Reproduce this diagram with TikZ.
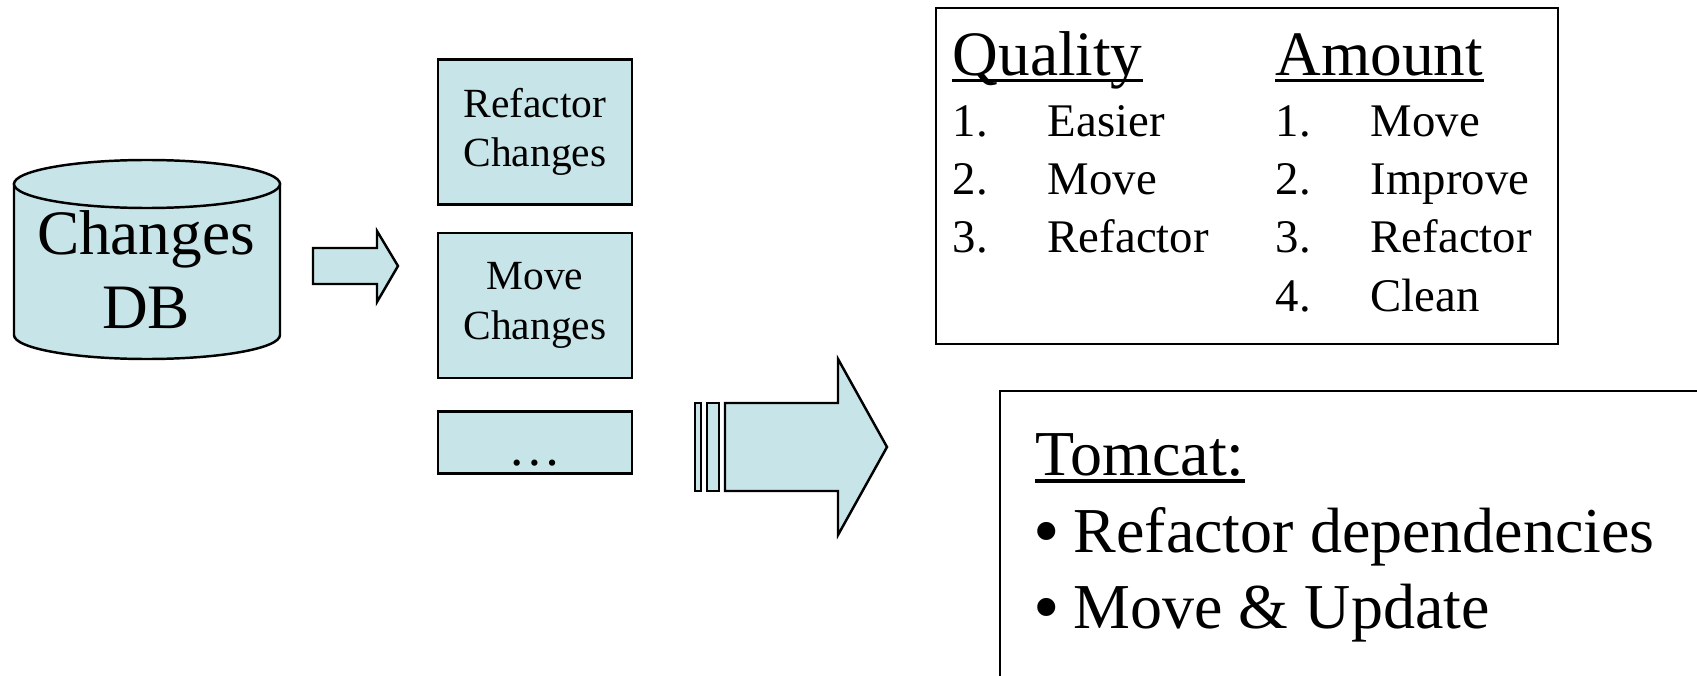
\documentclass[tikz,border=0pt]{standalone}
\usepackage{fontspec}
\setmainfont{Liberation Serif}
\usepackage{xcolor}
\usepackage{tikz}
\usetikzlibrary{positioning}

\definecolor{dbfill}{RGB}{199,229,232}
\newcommand{\headfont}{\fontsize{18}{21}\selectfont}
\newcommand{\itemfont}{\fontsize{13.3}{16}\selectfont}
\newcommand{\bigfont}{\fontsize{18.2}{22}\selectfont}
\newcommand{\bigdot}{\makebox[0.38cm][l]{\hspace*{-0.5pt}\raisebox{-1.4pt}{\fontsize{21.5}{21.5}\selectfont •}}}

\tikzset{
  outl/.style={draw=black, line width=0.7pt},
  cyanfill/.style={outl, fill=dbfill},
  chgbox/.style={cyanfill, minimum width=1.94cm, minimum height=1.45cm, inner sep=0pt,
    align=center, font=\fontsize{11.8}{14}\selectfont},
  txt/.style={inner sep=0pt, anchor=base west},
  uline/.style={line width=1pt},
}

\begin{document}
\begin{tikzpicture}[x=0.01cm, y=-0.01cm]
    \useasboundingbox (0,0) rectangle (1697,676);
    \clip (0,0) rectangle (1697,676);

    % Database
    \draw[cyanfill] (14,184) -- (14,335) arc[start angle=180, end angle=0, x radius=133, y radius=24] -- (280,184) -- cycle;
    \draw[cyanfill] (147,184) ellipse[x radius=133, y radius=24];
    \node[font=\headfont, align=center, inner sep=0pt] (db) at (146,270) {Changes\\DB};

    % Small arrow
    \draw[cyanfill] (313,248) -- (377,248) -- (377,231) -- (398,266) -- (377,302) -- (377,284) -- (313,284) -- cycle;

    % Change sets
    \node[chgbox] (rfc) at (535,132) {Refactor\\Changes};
    \node[chgbox, below=0.31cm of rfc, yshift=1.5pt] (mvc) {Move\\Changes};
    \node[chgbox, below=0.31cm of mvc, minimum height=0.62cm, text height=13pt, text depth=0pt,
      font=\fontsize{15}{15}\selectfont] (etc) {…};

    % Big arrow
    \draw[cyanfill] (695,403) rectangle (701,491);
    \draw[cyanfill] (707,403) rectangle (719,491);
    \draw[cyanfill] (725,403) -- (838,403) -- (838,359) -- (887,447) -- (838,535) -- (838,491) -- (725,491) -- cycle;

    % Ranking
    \draw[outl] (936,8) rectangle (1558,344);
    \node[txt, font=\headfont] (qual) at (952,76) {Quality};
    \node[txt, font=\headfont] (amt) at (1275,76) {Amount};
    \draw[uline] ([yshift=-1.3pt]qual.base west) -- ([yshift=-1.3pt]qual.base east);
    \draw[uline] ([yshift=-1.3pt]amt.base west) -- ([yshift=-1.3pt]amt.base east);

    \node[txt, font=\itemfont] (qn1) at (952,137) {1.};
    \node[txt, font=\itemfont] (qw1) at (1047,137) {Easier};
    \node[txt, font=\itemfont] (qn2) at (952,195) {2.};
    \node[txt, font=\itemfont] (qw2) at (1047,195) {Move};
    \node[txt, font=\itemfont] (qn3) at (952,252) {3.};
    \node[txt, font=\itemfont] (qw3) at (1047,252) {Refactor};

    \node[txt, font=\itemfont] (an1) at (1275,137) {1.};
    \node[txt, font=\itemfont] (aw1) at (1370,137) {Move};
    \node[txt, font=\itemfont] (an2) at (1275,195) {2.};
    \node[txt, font=\itemfont] (aw2) at (1370,195) {Improve};
    \node[txt, font=\itemfont] (an3) at (1275,252) {3.};
    \node[txt, font=\itemfont] (aw3) at (1370,252) {Refactor};
    \node[txt, font=\itemfont] (an4) at (1275,311) {4.};
    \node[txt, font=\itemfont] (aw4) at (1370,311) {Clean};

    % Tomcat
    \draw[outl] (1000,391) rectangle (1740,720);
    \node[txt, font=\bigfont] (tc) at (1035,475) {Tomcat:};
    \draw[uline] ([yshift=-1.7pt]tc.base west) -- ([yshift=-1.7pt]tc.base east);
    \node[txt, font=\bigfont] (dep) at (1035,552) {\bigdot Refactor dependencies};
    \node[txt, font=\bigfont] (upd) at (1035,628) {\bigdot Move \& Update};
\end{tikzpicture}
\end{document}
